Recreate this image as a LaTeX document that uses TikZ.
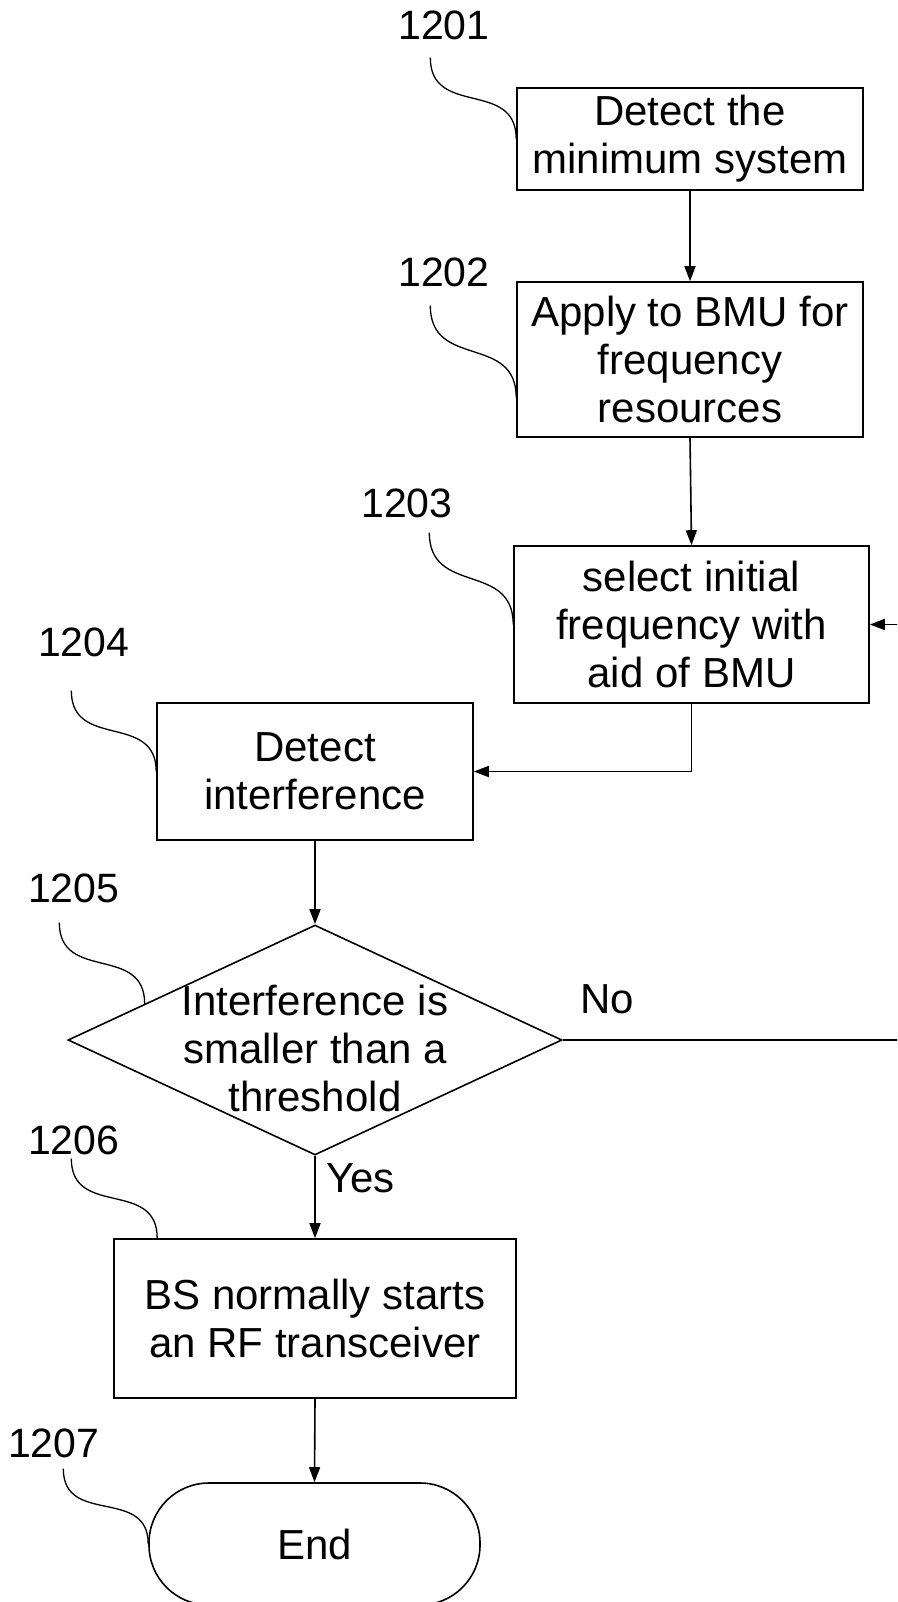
\documentclass[tikz,border=0pt]{standalone}
\usepackage{fontspec}
\setmainfont{Liberation Sans}
\usetikzlibrary{shapes.geometric, arrows.meta}

\begin{document}
\begin{tikzpicture}[x = 1pt, y = -1pt,
    stepbox/.style  = {draw, line width = 1.6pt, inner sep = 0pt, align = center, font = \fontsize{42}{48}\selectfont},
    decision/.style = {stepbox, diamond, aspect = 2.15, inner sep = -40pt},
    terminal/.style = {stepbox, rounded corners = 60pt},
    refnum/.style   = {anchor = base west, inner sep = 0pt, font = \fontsize{41}{48}\selectfont},
    answer/.style   = {anchor = base west, inner sep = 0pt, font = \fontsize{42}{48}\selectfont},
    flow/.style     = {line width = 1.6pt, -{Triangle[length = 15pt, width = 11pt]}},
    leader/.style   = {line width = 1.3pt, out = -90, in = 90, looseness = 1.3}]
    % Area del disegno
    \clip (0,0) rectangle (897,1602);
    % Passi
    \node[stepbox, minimum width = 346pt, minimum height = 102pt] (s1) at (690,139)    {Detect the\\minimum system};
    \node[stepbox, minimum width = 346pt, minimum height = 155pt] (s2) at (690,359.5)  {Apply to BMU for\\frequency\\resources};
    \node[stepbox, minimum width = 355pt, minimum height = 157pt] (s3) at (691.5,624.5){select initial\\frequency with\\aid of BMU};
    \node[stepbox, minimum width = 316pt, minimum height = 137pt] (s4) at (315,771.5)  {Detect\\interference};
    \node[decision, minimum width = 494pt, minimum height = 230pt] (s5) at (315,1040)  {\rule{0pt}{47pt}Interference is\\smaller than a\\threshold};
    \node[stepbox, minimum width = 402pt, minimum height = 159pt] (s6) at (315,1318.5) {BS normally starts\\an RF transceiver};
    \node[terminal, minimum width = 331pt, minimum height = 122pt] (s7) at (314.5,1544) {End};
    % Numeri di riferimento
    \node[refnum] (l1) at (398,40)   {1201};
    \node[refnum] (l2) at (398,287)  {1202};
    \node[refnum] (l3) at (361,517)  {1203};
    \node[refnum] (l4) at (38,656)   {1204};
    \node[refnum] (l5) at (28,902)   {1205};
    \node[refnum] (l6) at (28,1154)  {1206};
    \node[refnum] (l7) at (8,1457)   {1207};
    \draw[leader] ([xshift = -13.5pt, yshift = -17pt]l1.south) to (s1.west);
    \draw[leader] ([xshift = -13.5pt, yshift = -18pt]l2.south) to ([yshift = -38pt]s2.west);
    \draw[leader] ([xshift = 22.5pt, yshift = -15pt]l3.south)  to (s3.west);
    \draw[leader] ([xshift = -12.5pt, yshift = -34pt]l4.south) to (s4.west);
    \draw[leader] ([xshift = -14.5pt, yshift = -20pt]l5.south) to (s5.168);
    \draw[leader] ([xshift = -2.5pt, yshift = -4pt]l6.south)   to ([xshift = 44pt]s6.north west);
    \draw[leader] ([xshift = 9.5pt, yshift = -11pt]l7.south)   to (s7.west);
    % Frecce
    \draw[flow] (s1.south) -- (s2.north);
    \draw[flow] (s2.south) -- (s3.north);
    \draw[flow] (s3.south) |- (s4.east);
    \draw[flow] (s4.south) -- (s5.north);
    \draw[flow] (s5.south) -- (s6.north);
    \draw[flow] (s6.south) -- (s7.north);
    % Ramo "No"
    \coordinate (back) at (912,1040);
    \draw[flow] (s5.east) -- (back) |- (s3.east);
    \node[answer] (yes) at (326,1192) {Yes};
    \node[answer] (no)  at (580,1013) {No};
\end{tikzpicture}
\end{document}
